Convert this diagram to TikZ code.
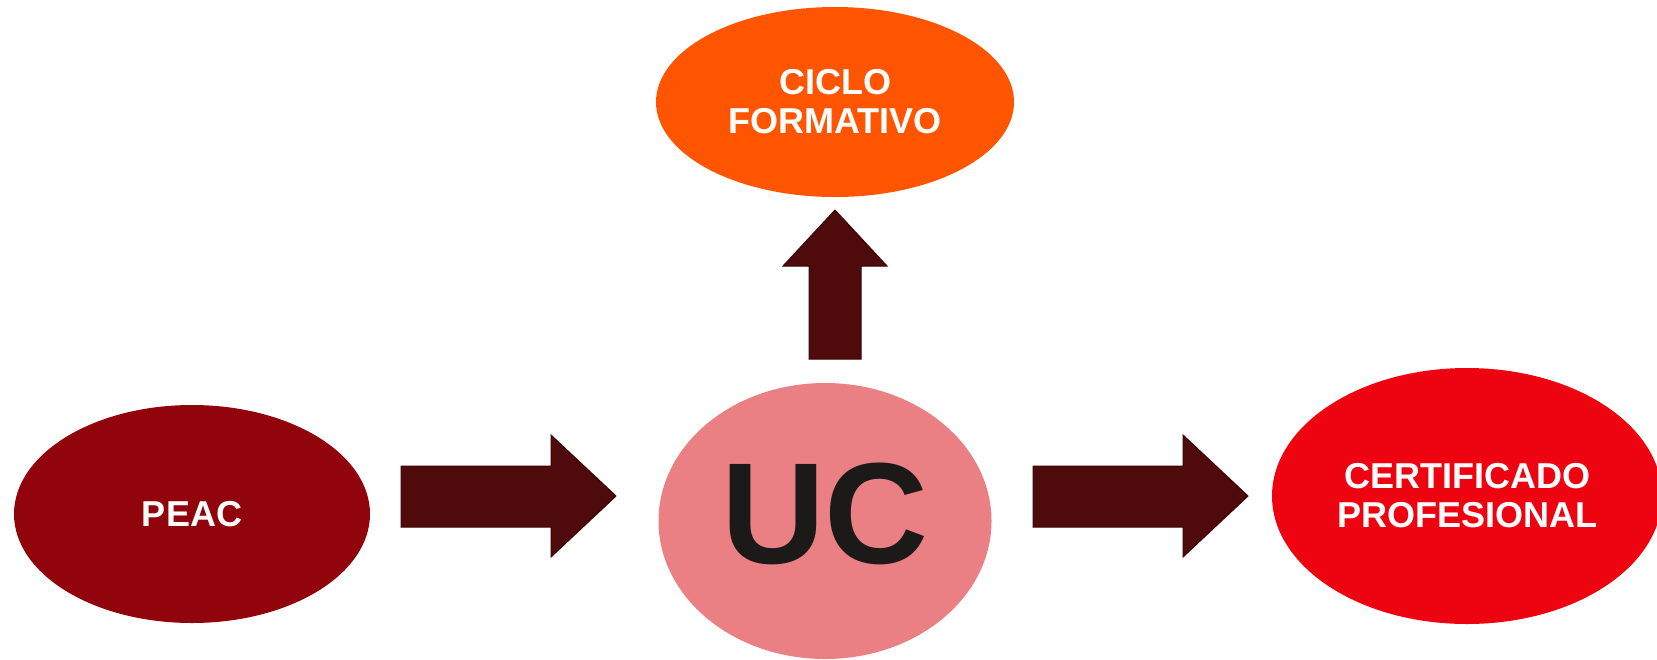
\documentclass[tikz,border=0pt]{standalone}
\usepackage{fontspec}
\setmainfont{Liberation Sans}
\usetikzlibrary{shapes.geometric}

\definecolor{peacred}{HTML}{92040B}
\definecolor{cicloorange}{HTML}{FF5500}
\definecolor{ucpink}{HTML}{EB8084}
\definecolor{certred}{HTML}{EE0410}
\definecolor{arrowbrown}{HTML}{4F0B0B}
\definecolor{arrowedge}{HTML}{3A0505}
\definecolor{uctext}{HTML}{1C1A18}

\tikzset{
  oval/.style={ellipse,inner sep=0pt,text=white,align=center,
    font=\fontsize{18}{19.5}\selectfont\bfseries},
  blockarrow/.style={fill=arrowbrown,draw=arrowedge,line width=0.5pt,line join=miter}
}

\begin{document}
\begin{tikzpicture}[x=0.5pt,y=-0.5pt]
  \useasboundingbox (0,0) rectangle (1657,659);

  \node[oval,fill=peacred,minimum width=178pt,minimum height=109pt] (peac) at (192,514) {PEAC};
  \node[oval,fill=cicloorange,minimum width=179pt,minimum height=95pt] (ciclo) at (835,102) {CICLO\\FORMATIVO};
  \node[oval,fill=ucpink,minimum width=166.5pt,minimum height=138pt,text=uctext,
        font=\fontsize{72}{72}\selectfont\bfseries] (uc) at (825,521) {\raisebox{3.5pt}[\height][\depth]{UC}};
  \node[oval,fill=certred,minimum width=195pt,minimum height=128pt] (cert) at (1467,496) {CERTIFICADO\\PROFESIONAL};

  % block arrows
  \draw[blockarrow] (401,466) -- (551,466) -- (551,435) -- (616,496)
    -- (551,557) -- (551,527) -- (401,527) -- cycle;
  \draw[blockarrow] (1033,466) -- (1183,466) -- (1183,435) -- (1248,496)
    -- (1183,557) -- (1183,527) -- (1033,527) -- cycle;
  \draw[blockarrow] (809,359) -- (809,266) -- (783,266) -- (835,210)
    -- (887,266) -- (861,266) -- (861,359) -- cycle;
\end{tikzpicture}
\end{document}
